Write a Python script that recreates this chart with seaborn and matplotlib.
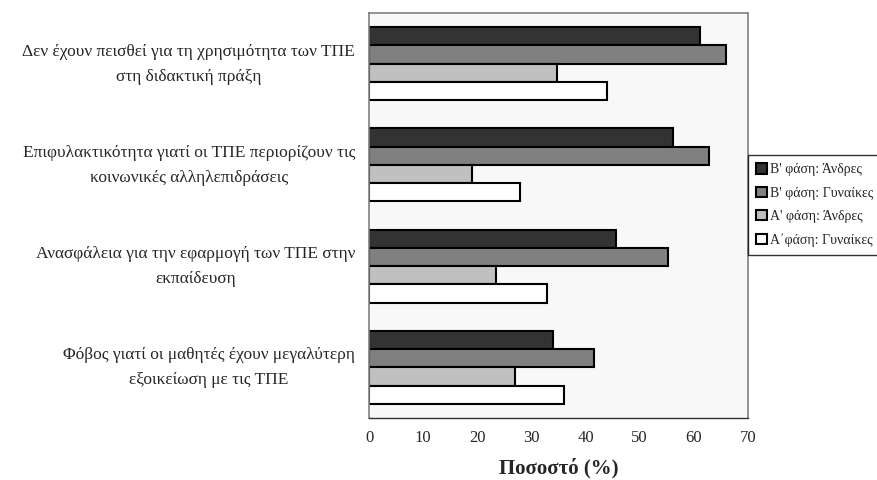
import matplotlib
matplotlib.use("Agg")
import matplotlib.pyplot as plt
import matplotlib.transforms as mtransforms
import seaborn as sns
import pandas as pd

categories = [
    "Δεν έχουν πεισθεί για τη χρησιμότητα των ΤΠΕ\nστη διδακτική πράξη",
    "Επιφυλακτικότητα γιατί οι ΤΠΕ περιορίζουν τις\nκοινωνικές αλληλεπιδράσεις",
    "Ανασφάλεια για την εφαρμογή των ΤΠΕ στην\nεκπαίδευση",
    "Φόβος γιατί οι μαθητές έχουν μεγαλύτερη\nεξοικείωση με τις ΤΠΕ",
]
series_names = ["Β' φάση: Άνδρες", "Β' φάση: Γυναίκες", "Α' φάση: Άνδρες", "Α΄φάση: Γυναίκες"]
b_men = [61.1, 56.1, 45.6, 33.9]
b_women = [65.9, 62.8, 55.2, 41.6]
a_men = [34.8, 19.1, 23.5, 27.0]
a_women = [44.0, 27.9, 32.9, 36.0]
colors = ["#333333", "#808080", "#c0c0c0", "#ffffff"]
xticks = [0, 10, 20, 30, 40, 50, 60, 70]

rows = []
for name, vals in zip(series_names, [b_men, b_women, a_men, a_women]):
    for c, v in zip(categories, vals):
        rows.append({"cat": c, "series": name, "value": v})
df = pd.DataFrame(rows)

sns.set_style("white")
plt.rcParams["font.family"] = ["Liberation Serif", "DejaVu Serif"]

fig = plt.figure(figsize=(8.77, 4.8), dpi=100)
ax = fig.add_axes([369 / 877, 1 - 418 / 480, (748 - 369) / 877, (418 - 13) / 480])

sns.barplot(data=df, x="value", y="cat", hue="series", order=categories,
            hue_order=series_names, palette=colors, orient="h", width=0.72,
            edgecolor="black", linewidth=1.5, saturation=1, ax=ax)

ax.set_facecolor("#f8f8f8")
ax.set_xlim(0, 70)
ax.set_xticks(xticks)
ax.set_xticklabels([str(t) for t in xticks], fontsize=12)
ax.tick_params(axis="x", direction="out", length=4, width=1, color="#333333", pad=5)
ax.tick_params(axis="y", length=0, pad=10)
shift = mtransforms.ScaledTranslation(0, 6 / 100, fig.dpi_scale_trans)
for lab in ax.get_yticklabels():
    lab.set_fontsize(12.5)
    lab.set_multialignment("center")
    lab.set_linespacing(1.75)
    lab.set_transform(lab.get_transform() + shift)
ax.set_ylabel("")
ax.set_xlabel("Ποσοστό (%)", fontsize=15, fontweight="bold", labelpad=8)
for s in ["left", "top", "right"]:
    ax.spines[s].set_color("#808080")
    ax.spines[s].set_linewidth(1.2)
ax.spines["bottom"].set_color("#333333")
ax.spines["bottom"].set_linewidth(1.0)

handles, labels = ax.get_legend_handles_labels()
ax.get_legend().remove()
leg = fig.legend(handles, labels, loc="upper left",
                 bbox_to_anchor=(748 / 877, 1 - 155 / 480), borderaxespad=0,
                 fontsize=10, frameon=True, fancybox=False, edgecolor="black",
                 handlelength=0.75, handleheight=0.75, handletextpad=0.2,
                 labelspacing=0.75, borderpad=0.6)
leg.get_frame().set_linewidth(1.0)
leg.get_frame().set_facecolor("white")

fig.savefig("out.png", dpi=100)
